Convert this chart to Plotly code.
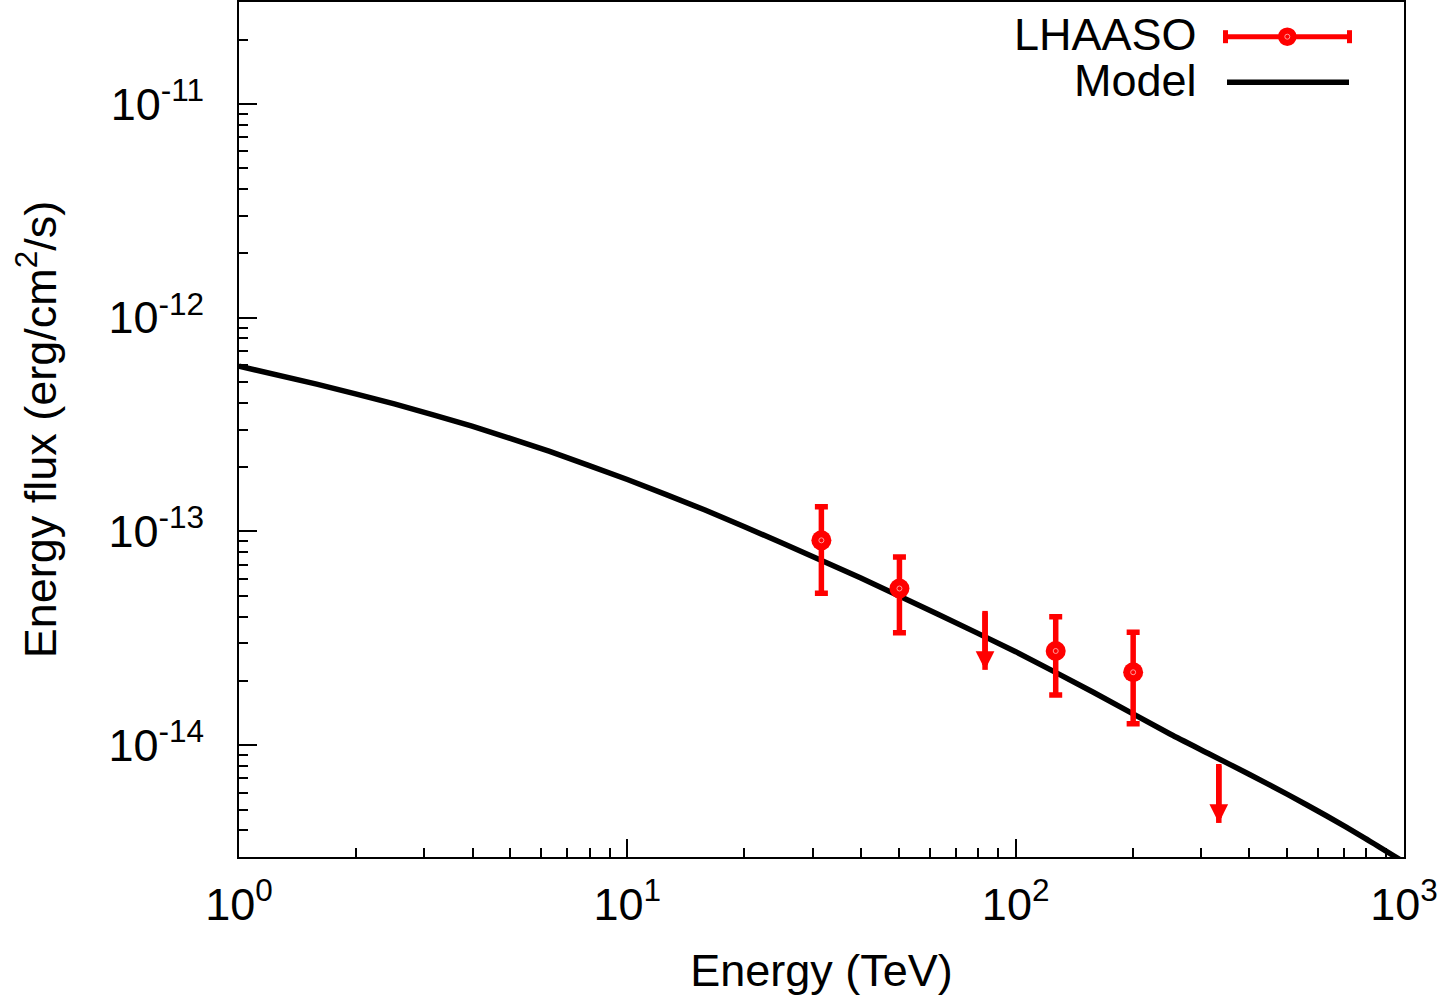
import math
import plotly.graph_objects as go

# ---------------- data ----------------
# Model curve (energy in TeV, energy flux in erg/cm^2/s)
model_energy = [1.0, 1.585, 2.512, 3.981, 6.310, 10.0, 15.85, 25.12, 39.81, 63.10,
                100.0, 158.5, 251.2, 316.2, 398.1, 501.2, 631.0, 794.3, 1000.0]
model_flux = [5.93e-13, 4.89e-13, 3.95e-13, 3.11e-13, 2.37e-13, 1.75e-13, 1.26e-13,
              8.81e-14, 6.07e-14, 4.10e-14, 2.74e-14, 1.77e-14, 1.122e-14, 9.08e-15,
              7.33e-15, 5.89e-15, 4.68e-15, 3.67e-15, 2.84e-15]

# LHAASO detections
lhaaso_energy = [31.6, 50.2, 126.8, 200.7]
lhaaso_flux = [9.09e-14, 5.41e-14, 2.76e-14, 2.195e-14]
lhaaso_flux_hi = [1.305e-13, 7.60e-14, 3.99e-14, 3.38e-14]
lhaaso_flux_lo = [5.14e-14, 3.36e-14, 1.72e-14, 1.26e-14]

# LHAASO upper limits
ul_energy = [83.4, 333.5]
ul_flux = [4.25e-14, 8.17e-15]

# axis ticks
x_tickvals = [1, 10, 100, 1000]
x_ticktext = ["10<sup>0</sup>", "10<sup>1</sup>", "10<sup>2</sup>", "10<sup>3</sup>"]
y_tickvals = [1e-14, 1e-13, 1e-12, 1e-11]
y_ticktext = ["10<sup>-14</sup>", "10<sup>-13</sup>", "10<sup>-12</sup>", "10<sup>-11</sup>"]
minor_digits = [2, 3, 4, 5, 6, 7, 8, 9]
x_decades = [1, 10, 100]
y_decades = [1e-15, 1e-14, 1e-13, 1e-12, 1e-11]

# ---------------- styling constants ----------------
W, H = 1439, 998
ML, MR, MT, MB = 239, 35, 2, 141
FONT = "Liberation Sans, Arial, Helvetica, sans-serif"
FS = 45
RED = "#ff0000"
UL_ARROW_FACTOR = 0.53

x_minor = [d * m for d in x_decades for m in minor_digits]
y_minor = [d * m for d in y_decades for m in minor_digits if 3e-15 <= d * m <= 3e-11]

fig = go.Figure()

# Model
fig.add_trace(go.Scatter(
    x=model_energy, y=model_flux, mode="lines",
    line=dict(color="black", width=5.5, shape="spline", smoothing=0.5),
    showlegend=False, hoverinfo="skip"))

# Detections with error bars
fig.add_trace(go.Scatter(
    x=lhaaso_energy, y=lhaaso_flux, mode="markers",
    marker=dict(symbol="circle", size=20, color=RED, line=dict(width=0)),
    error_y=dict(type="data", symmetric=False,
                 array=[h - f for h, f in zip(lhaaso_flux_hi, lhaaso_flux)],
                 arrayminus=[f - l for f, l in zip(lhaaso_flux, lhaaso_flux_lo)],
                 color=RED, thickness=5.5, width=6.5),
    showlegend=False))
fig.add_trace(go.Scatter(
    x=lhaaso_energy, y=lhaaso_flux, mode="markers",
    marker=dict(symbol="circle-open", size=5, color="#ff9a9a", line=dict(width=1)),
    showlegend=False, hoverinfo="skip"))

# Upper limits: shaft drawn as one-sided error bar from the arrow tip up to the limit
ul_tip = [f * UL_ARROW_FACTOR for f in ul_flux]
fig.add_trace(go.Scatter(
    x=ul_energy, y=ul_tip, mode="markers",
    marker=dict(size=1, color="rgba(0,0,0,0)"),
    error_y=dict(type="data", symmetric=False,
                 array=[f - t for f, t in zip(ul_flux, ul_tip)],
                 arrayminus=[0 for _ in ul_flux],
                 color=RED, thickness=5.5, width=0),
    showlegend=False, hoverinfo="skip"))

# ---------------- custom legend (text left, sample right) ----------------
PW, PH = W - ML - MR, H - MT - MB


def px(xpix):
    return (xpix - ML) / PW


def py(ypix):
    return (H - MB - ypix) / PH


shapes = []
leg_y1, leg_y2 = 36.7, 82.3
# LHAASO sample
shapes.append(dict(type="line", xref="paper", yref="paper", x0=px(1223), x1=px(1352),
                   y0=py(leg_y1), y1=py(leg_y1), line=dict(color=RED, width=5)))
for cx in (1225.5, 1349.5):
    shapes.append(dict(type="line", xref="paper", yref="paper", x0=px(cx), x1=px(cx),
                       y0=py(leg_y1 - 6.5), y1=py(leg_y1 + 6.5), line=dict(color=RED, width=5)))
shapes.append(dict(type="circle", xref="paper", yref="paper",
                   x0=px(1287.3 - 9.3), x1=px(1287.3 + 9.3),
                   y0=py(leg_y1 + 9.3), y1=py(leg_y1 - 9.3),
                   fillcolor=RED, line=dict(width=0)))
shapes.append(dict(type="circle", xref="paper", yref="paper",
                   x0=px(1287.3 - 2.5), x1=px(1287.3 + 2.5),
                   y0=py(leg_y1 + 2.5), y1=py(leg_y1 - 2.5),
                   fillcolor="rgba(0,0,0,0)", line=dict(width=1, color="#ff9a9a")))
# Model sample
shapes.append(dict(type="line", xref="paper", yref="paper", x0=px(1227), x1=px(1349),
                   y0=py(leg_y2), y1=py(leg_y2), line=dict(color="black", width=5.5)))

annotations = [
    dict(text="LHAASO", xref="paper", yref="paper", x=px(1199), y=py(leg_y1 - 2),
         xanchor="right", yanchor="middle", showarrow=False,
         font=dict(family=FONT, size=FS, color="black")),
    dict(text="Model", xref="paper", yref="paper", x=px(1199), y=py(leg_y2 - 2),
         xanchor="right", yanchor="middle", showarrow=False,
         font=dict(family=FONT, size=FS, color="black")),
]

# Upper-limit arrowheads (annotation arrows in data coordinates of the log axes)
for e, f, t in zip(ul_energy, ul_flux, ul_tip):
    annotations.append(dict(
        text="", xref="x", yref="y", axref="x", ayref="y",
        x=math.log10(e), y=math.log10(t), ax=math.log10(e), ay=math.log10(f),
        showarrow=True, arrowhead=2, arrowsize=0.68, arrowwidth=5.5,
        arrowcolor=RED, standoff=0, startstandoff=0))

axis_common = dict(
    showgrid=False, zeroline=False, showline=True, linecolor="black", linewidth=2,
    mirror=True, ticks="inside", ticklen=18, tickwidth=1.5, tickcolor="black",
    tickfont=dict(family=FONT, size=FS, color="black"), automargin=False,
)

fig.update_layout(
    width=W, height=H, autosize=False,
    margin=dict(l=ML, r=MR, t=MT, b=MB, pad=0),
    paper_bgcolor="white", plot_bgcolor="white",
    font=dict(family=FONT, size=FS, color="black"),
    shapes=shapes, annotations=annotations,
    xaxis=dict(
        type="log", range=[0, 3],
        tickmode="array", tickvals=x_tickvals, ticktext=x_ticktext,
        ticklabelstandoff=7,
        minor=dict(tickmode="array", tickvals=x_minor, ticks="inside", ticklen=9,
                   tickwidth=1.5, tickcolor="black", showgrid=False),
        title=dict(text="Energy (TeV)", font=dict(family=FONT, size=FS, color="black"),
                   standoff=25),
        **axis_common),
    yaxis=dict(
        type="log", range=[-14.5229, -10.5229],
        tickmode="array", tickvals=y_tickvals, ticktext=y_ticktext,
        ticklabelstandoff=24,
        minor=dict(tickmode="array", tickvals=y_minor, ticks="inside", ticklen=9,
                   tickwidth=1.5, tickcolor="black", showgrid=False),
        title=dict(text="Energy flux (erg/cm<sup>2</sup>/s)",
                   font=dict(family=FONT, size=FS, color="black"), standoff=38),
        **axis_common),
    showlegend=False,
)

fig.write_html(
    "out.html",
    config={"displayModeBar": False},
    post_script="document.body.style.margin='0';document.body.style.padding='0';"
                "document.body.style.overflow='hidden';",
)
